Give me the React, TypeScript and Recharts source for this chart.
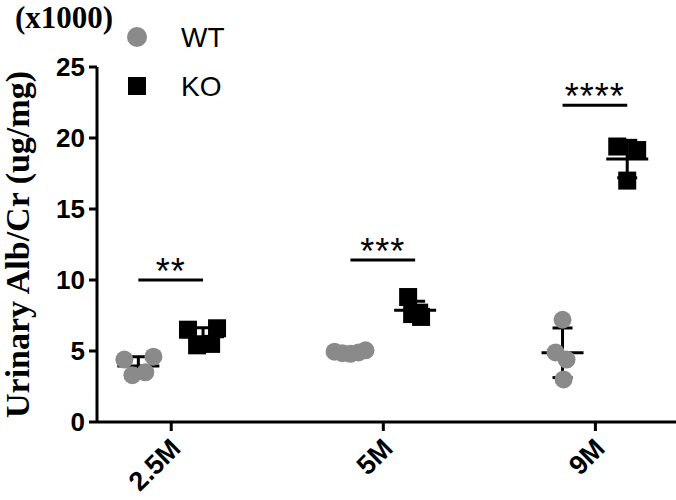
import { ScatterChart, Scatter, XAxis, YAxis, ReferenceLine, Legend } from "recharts"

const ages = ["2.5M", "5M", "9M"]

// urinary Alb/Cr, x1000 ug/mg, one array per age
const wtValues = [
  [4.4, 4.6, 3.3, 3.5],
  [4.95, 4.85, 4.8, 4.9, 5.05],
  [7.2, 4.9, 4.4, 3.0],
]
const koValues = [
  [6.5, 6.6, 5.4, 5.5],
  [8.8, 7.6, 7.4, 7.7],
  [19.4, 19.15, 17.0],
]

// horizontal scatter of the dots inside each group (category units)
const wtSpread = [
  [-0.066, 0.071, -0.028, 0.033],
  [-0.075, -0.038, 0, 0.038, 0.071],
  [0, -0.033, 0.019, 0.005],
]
const koSpread = [
  [-0.071, 0.066, -0.028, 0.038],
  [-0.033, -0.014, 0.028, 0.019],
  [-0.047, 0.047, 0],
]

const stars = ["**", "***", "****"]
const starHeights = [10, 11.4, 22.3]
const yTicks = [0, 5, 10, 15, 20, 25]

const WT_OFF = -0.155
const KO_OFF = 0.15
const GRAY = "#8a8a8a"
const SANS = "'Liberation Sans', Arial, sans-serif"
const SERIF = "'Liberation Serif', 'Times New Roman', serif"

const mean = (a: number[]) => a.reduce((s, v) => s + v, 0) / a.length
const sd = (a: number[]) => {
  const m = mean(a)
  return Math.sqrt(a.reduce((s, v) => s + (v - m) * (v - m), 0) / (a.length - 1))
}

const points = (vals: number[][], spread: number[][], off: number) =>
  vals.flatMap((grp, g) => grp.map((v, i) => ({ x: g + 1 + off + spread[g][i], y: v })))

const means = (vals: number[][], off: number) => vals.map((grp, g) => ({ x: g + 1 + off, y: mean(grp) }))

// mean - SD and mean + SD of one group, joined by the scatter line
const whisker = (grp: number[], x: number) => [
  { x, y: mean(grp) - sd(grp) },
  { x, y: mean(grp) + sd(grp) },
]

const wtPoints = points(wtValues, wtSpread, WT_OFF)
const koPoints = points(koValues, koSpread, KO_OFF)
const meanData = [...means(wtValues, WT_OFF), ...means(koValues, KO_OFF)]
const whiskers = [
  ...wtValues.map((grp, g) => whisker(grp, g + 1 + WT_OFF)),
  ...koValues.map((grp, g) => whisker(grp, g + 1 + KO_OFF)),
]
const starData = ages.map((_, g) => ({ x: g + 1 + (WT_OFF + KO_OFF) / 2, y: starHeights[g], stars: stars[g] }))

const Dot = (p: any) => <circle cx={p.cx} cy={p.cy} r={9} fill={GRAY} />
const Box = (p: any) => <rect x={p.cx - 9} y={p.cy - 9} width={18} height={18} fill="#000" />
const MeanLine = (p: any) => (
  <line x1={p.cx - 21} x2={p.cx + 21} y1={p.cy} y2={p.cy} stroke="#000" strokeWidth={3} />
)
const Cap = (p: any) => (
  <line x1={p.cx - 10} x2={p.cx + 10} y1={p.cy} y2={p.cy} stroke="#000" strokeWidth={3} />
)
const Stars = (p: any) => (
  <text x={p.cx} y={p.cy + 4} textAnchor="middle" fontSize={36} fontFamily={SANS} letterSpacing={1} fill="#000">
    {p.payload.stars}
  </text>
)

const AgeTick = ({ x, y, payload }: any) => (
  <text
    x={x + 11}
    y={y + 17}
    transform={`rotate(-45, ${x + 11}, ${y + 17})`}
    textAnchor="end"
    fontSize={27}
    fontWeight="bold"
    fontFamily={SANS}
    fill="#000"
  >
    {ages[payload.value - 1]}
  </text>
)

const YTitle = ({ viewBox }: any) => {
  const cx = viewBox.x + 29
  const cy = viewBox.y + viewBox.height / 2
  return (
    <g>
      <text x={15} y={28} fontSize={31} fontWeight="bold" fontFamily={SERIF} fill="#000">
        (x1000)
      </text>
      <text
        x={cx}
        y={cy}
        transform={`rotate(-90, ${cx}, ${cy})`}
        textAnchor="middle"
        fontSize={34}
        fontWeight="bold"
        fontFamily={SERIF}
        fill="#000"
      >
        Urinary Alb/Cr (ug/mg)
      </text>
    </g>
  )
}

const LegendBox = () => (
  <svg width={160} height={100} style={{ display: "block" }}>
    <circle cx={19} cy={19} r={10} fill={GRAY} />
    <text x={63} y={29} fontSize={28} fontFamily={SANS} fill="#000">WT</text>
    <rect x={10} y={59} width={18} height={18} fill="#000" />
    <text x={63} y={78} fontSize={28} fontFamily={SANS} fill="#000">KO</text>
  </svg>
)

export default function App() {
  const axis = { stroke: "#000", strokeWidth: 3 }
  return (
    <div style={{ position: "absolute", left: 0, top: 0, width: 676, height: 500, background: "#fff" }}>
      <ScatterChart width={676} height={500} margin={{ top: 67, right: 0, bottom: 0, left: 0 }}>
        <XAxis
          type="number"
          dataKey="x"
          domain={[0.65, 3.38]}
          ticks={[1, 2, 3]}
          allowDataOverflow
          axisLine={axis}
          tickLine={axis}
          tickSize={9}
          height={78}
          tick={<AgeTick />}
        />
        <YAxis
          type="number"
          dataKey="y"
          domain={[0, 25]}
          ticks={yTicks}
          allowDataOverflow
          width={97}
          axisLine={axis}
          tickLine={axis}
          tickSize={8}
          tickMargin={4}
          tick={{ fontSize: 26, fontWeight: "bold", fill: "#000", fontFamily: SANS }}
          label={<YTitle />}
        />
        <Legend
          layout="vertical"
          align="center"
          verticalAlign="middle"
          wrapperStyle={{ left: 118, top: 18, width: 160, height: 100 }}
          content={<LegendBox />}
        />
        {ages.map((_, g) => (
          <ReferenceLine
            key={g}
            segment={[
              { x: g + 1 + WT_OFF, y: starHeights[g] },
              { x: g + 1 + KO_OFF, y: starHeights[g] },
            ]}
            stroke="#000"
            strokeWidth={3}
            ifOverflow="visible"
          />
        ))}
        {whiskers.map((w, i) => (
          <Scatter
            key={"sd" + i}
            data={w}
            line={{ stroke: "#000", strokeWidth: 3 }}
            shape={Cap}
            isAnimationActive={false}
            legendType="none"
          />
        ))}
        <Scatter name="mean" data={meanData} shape={MeanLine} isAnimationActive={false} legendType="none" />
        <Scatter name="WT" data={wtPoints} shape={Dot} isAnimationActive={false} />
        <Scatter name="KO" data={koPoints} shape={Box} isAnimationActive={false} />
        <Scatter name="sig" data={starData} shape={Stars} isAnimationActive={false} legendType="none" />
      </ScatterChart>
    </div>
  )
}
